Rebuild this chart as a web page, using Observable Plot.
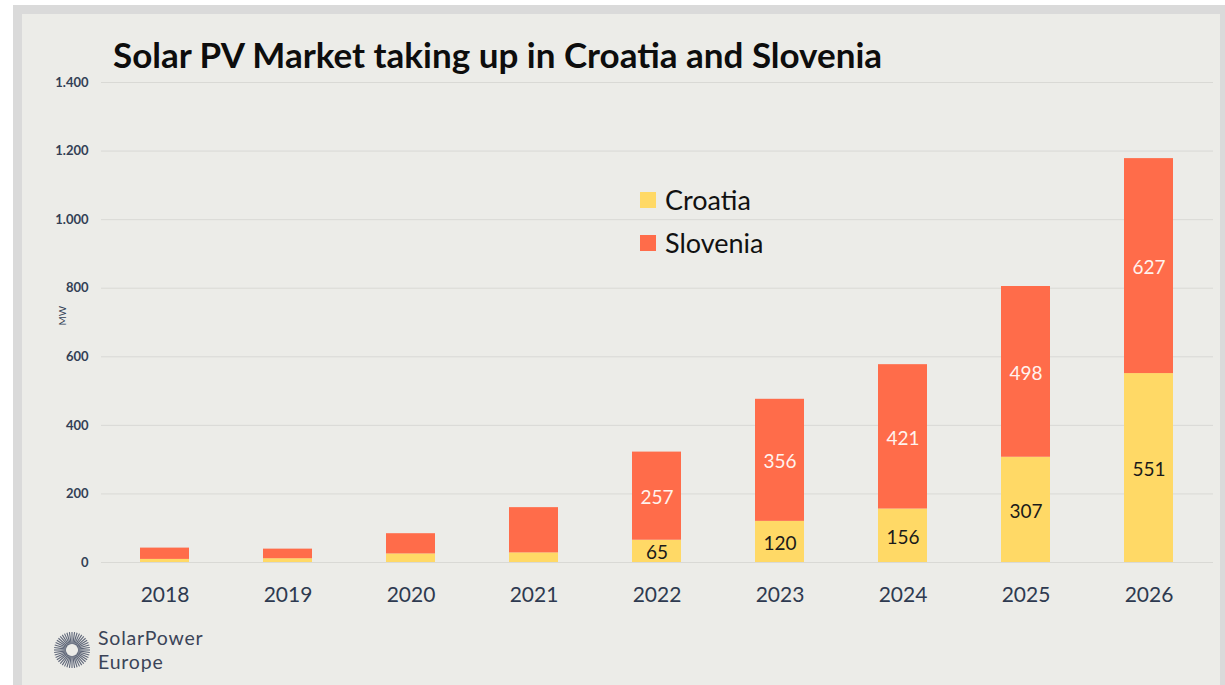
<!DOCTYPE html>
<html>
<head>
<meta charset="utf-8">
<script src="https://cdn.jsdelivr.net/npm/d3@7"></script>
<script src="https://cdn.jsdelivr.net/npm/@observablehq/plot@0.6"></script>
<style>
  html, body { margin: 0; padding: 0; background: #ffffff; }
  #wrap { position: relative; width: 1225px; height: 685px; overflow: hidden; font-family: Lato, "Open Sans", sans-serif; }
  #border { position: absolute; left: 13px; top: 5px; width: 1212px; height: 690px; background: #DADADA; }
  #panel { position: absolute; left: 22px; top: 14px; width: 1198px; height: 680px; background: #ECECE8; }
  #title { position: absolute; left: 113px; top: 37px; font: bold 35px Lato, sans-serif; color: #0d0d0d; line-height: 35px; white-space: nowrap; }
  #chart { position: absolute; left: 0; top: 75px; }
  #legend { position: absolute; left: 640px; top: 178px; font: 27px Lato, sans-serif; color: #111; }
  .li { display: flex; align-items: center; height: 43px; }
  .sw { width: 16px; height: 16px; margin-right: 9px; }
  #logo { position: absolute; left: 52px; top: 626px; display: flex; align-items: center; }
  #logotext { font: 19.5px Lato, sans-serif; letter-spacing: 0.8px; color: #3B4458; margin-left: 6px; }
  #logotext div { line-height: 23.5px; height: 23.5px; }
</style>
</head>
<body>
<div id="wrap">
  <div id="border"></div>
  <div id="panel"></div>
  <div id="title">Solar PV Market taking up in Croatia and Slovenia</div>
  <div id="chart"></div>
  <div id="legend"></div>
  <div id="logo"></div>
</div>
<script>
const years = ["2018", "2019", "2020", "2021", "2022", "2023", "2024", "2025", "2026"];
const croatia = [9, 11, 25, 28, 65, 120, 156, 307, 551];
const slovenia = [33, 28, 59, 132, 257, 356, 421, 498, 627];
const labelledYears = ["2022", "2023", "2024", "2025", "2026"];
const series = ["Croatia", "Slovenia"];
const colors = ["#FFD966", "#FF6C4A"];
const yTicks = [0, 200, 400, 600, 800, 1000, 1200, 1400];

const rows = [];
years.forEach((y, i) => rows.push({year: y, country: "Croatia", value: croatia[i]}));
years.forEach((y, i) => rows.push({year: y, country: "Slovenia", value: slovenia[i]}));

const fmt = d3.formatLocale({decimal: ",", thousands: ".", grouping: [3], currency: ["", ""]}).format(",d");

const labelFor = (name) => (d) => (d.country === name && labelledYears.includes(d.year)) ? String(d.value) : "";

const chart = Plot.plot({
  width: 1225,
  height: 545,
  marginLeft: 101,
  marginRight: 12,
  marginTop: 7,
  marginBottom: 58,
  style: {background: "transparent", fontFamily: "Lato, sans-serif"},
  x: {domain: years, paddingInner: 0.6, paddingOuter: 0.3, label: null},
  y: {domain: [0, 1400], label: null},
  color: {domain: series, range: colors},
  marks: [
    Plot.gridY(yTicks, {stroke: "#D9D9D5", strokeOpacity: 1, strokeWidth: 1}),
    Plot.axisY({ticks: yTicks, tickSize: 0, tickPadding: 13, tickFormat: fmt, fontSize: 13, fontWeight: "bold", fill: "#333F55", label: null}),
    Plot.axisX({tickSize: 0, tickPadding: 25, fontSize: 21, fill: "#2E3A50", label: null}),
    Plot.barY(rows, Plot.stackY({x: "year", y: "value", z: "country", fill: "country"})),
    Plot.text(rows, Plot.stackY({x: "year", y: "value", z: "country", text: labelFor("Slovenia"), fill: "#FFF3EE", fontSize: 19, dy: 2})),
    Plot.text(rows, Plot.stackY({x: "year", y: "value", z: "country", text: labelFor("Croatia"), fill: "#1A1A1A", fontSize: 19, dy: 2})),
    Plot.text(["MW"], {frameAnchor: "left", dx: -39, dy: 3, rotate: -90, fontSize: 10, fill: "#333F55", text: d => d})
  ]
});
document.getElementById("chart").appendChild(chart);

// Legend
const legend = document.getElementById("legend");
series.forEach((s, i) => {
  const row = document.createElement("div");
  row.className = "li";
  row.innerHTML = `<span class="sw" style="background:${colors[i]}"></span><span>${s}</span>`;
  legend.appendChild(row);
});

// Logo
const logo = document.getElementById("logo");
const ns = "http://www.w3.org/2000/svg";
const svg = document.createElementNS(ns, "svg");
svg.setAttribute("width", 40);
svg.setAttribute("height", 40);
for (let k = 0; k < 44; k++) {
  const a = (k / 44) * 2 * Math.PI;
  const ln = document.createElementNS(ns, "line");
  ln.setAttribute("x1", 20 + 6 * Math.cos(a));
  ln.setAttribute("y1", 20 + 6 * Math.sin(a));
  ln.setAttribute("x2", 20 + 18 * Math.cos(a));
  ln.setAttribute("y2", 20 + 18 * Math.sin(a));
  ln.setAttribute("stroke", "#5E6678");
  ln.setAttribute("stroke-width", 1.1);
  svg.appendChild(ln);
}
logo.appendChild(svg);
const lt = document.createElement("div");
lt.id = "logotext";
lt.innerHTML = "<div>SolarPower</div><div>Europe</div>";
logo.appendChild(lt);
</script>
</body>
</html>
